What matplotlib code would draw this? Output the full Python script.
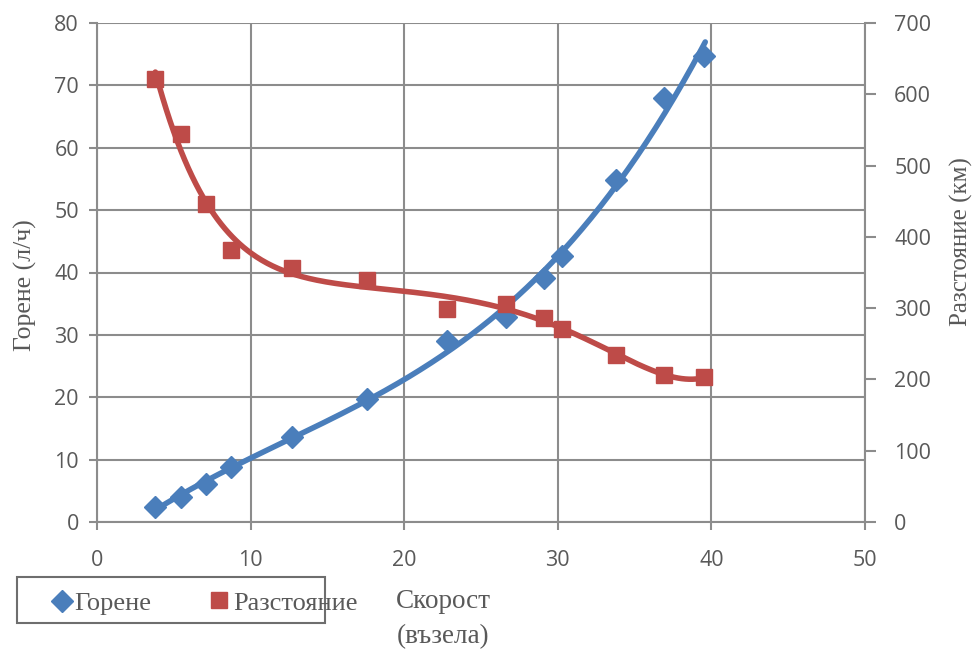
import numpy as np
import matplotlib
matplotlib.use("Agg")
import matplotlib.pyplot as plt
from matplotlib.lines import Line2D

speed = [3.8, 5.5, 7.1, 8.7, 12.7, 17.6, 22.8, 26.6, 29.1, 30.3, 33.8, 36.9, 39.5]
fuel = [2.4, 4.0, 6.1, 8.8, 13.6, 19.7, 29.0, 32.9, 39.1, 42.6, 54.8, 68.0, 74.7]
distance = [621, 544, 446, 381, 356, 339, 299, 306, 286, 271, 234, 206, 203]

x_ticks = [0, 10, 20, 30, 40, 50]
left_ticks = [0, 10, 20, 30, 40, 50, 60, 70, 80]
right_ticks = [0, 100, 200, 300, 400, 500, 600, 700]

BLUE = "#4a7ebb"
RED = "#be4b48"
GRID = "#8c8c8c"
TXT = "#595959"

fig = plt.figure(figsize=(9.75, 6.51), dpi=100)
ax = fig.add_axes([97/975, (651-522)/651, 768/975, 499/651])
ax2 = ax.twinx()

serif = ["Liberation Serif", "DejaVu Serif"]

ax.set_xlim(0, 50)
ax.set_ylim(0, 80)
ax2.set_ylim(0, 700)
ax.set_xticks(x_ticks)
ax.set_yticks(left_ticks)
ax2.set_yticks(right_ticks)
ax.grid(True, color=GRID, linewidth=1.5)
ax.set_axisbelow(True)

for a in (ax, ax2):
    for s in a.spines.values():
        s.set_visible(False)
ax.spines["left"].set_visible(True)
ax.spines["bottom"].set_visible(True)
ax2.spines["right"].set_visible(True)
for s in (ax.spines["left"], ax.spines["bottom"], ax2.spines["right"]):
    s.set_color(GRID)
    s.set_linewidth(1.5)

ax.tick_params(axis="y", direction="out", length=6, width=1.5, color=GRID, pad=7)
ax.tick_params(axis="x", direction="out", length=6, width=1.5, color=GRID, pad=14)
ax2.tick_params(axis="y", direction="out", length=8, width=1.5, color=GRID, pad=13)
for lbl in ax.get_xticklabels() + ax.get_yticklabels() + ax2.get_yticklabels():
    lbl.set_fontfamily("Open Sans")
    lbl.set_fontsize(15.5)
    lbl.set_color(TXT)

# trendlines (polynomial fits of the data)
xs_f = np.linspace(min(speed), max(speed) + 0.1, 300)
xs_d = np.linspace(min(speed), max(speed), 300)
pf = np.polyfit(speed, fuel, 3)
pd_ = np.polyfit(speed, distance, 6)

ax.plot(xs_f, np.polyval(pf, xs_f), color=BLUE, linewidth=4, zorder=3, solid_capstyle="round")
ax2.plot(xs_d, np.polyval(pd_, xs_d), color=RED, linewidth=4, zorder=3, solid_capstyle="round")
ax.plot(speed, fuel, linestyle="none", marker="D", markersize=11, color=BLUE, zorder=4)
ax2.plot(speed, distance, linestyle="none", marker="s", markersize=12, color=RED, zorder=4)

fig.text(25/975, 1 - 285/651, "Горене (л/ч)", rotation=90, ha="center", va="center",
         family=serif, fontsize=18.5, color=TXT)
fig.text(961/975, 1 - 242/651, "Разстояние (км)", rotation=90, ha="center", va="center",
         family=serif, fontsize=18, color=TXT)
fig.text(443/975, 1 - 601/651, "Скорост", ha="center", va="center",
         family=serif, fontsize=19.5, color=TXT)
fig.text(443/975, 1 - 637/651, "(възела)", ha="center", va="center",
         family=serif, fontsize=19.5, color=TXT)

# legend box
box = plt.Rectangle((17/975, 1 - 623/651), 308/975, 46/651, transform=fig.transFigure,
                    fill=False, edgecolor="#6e6e6e", linewidth=1.5)
fig.add_artist(box)
fig.add_artist(Line2D([62/975], [1 - 601/651], marker="D", markersize=11, color=BLUE,
                      transform=fig.transFigure))
fig.text(74/975, 1 - 604/651, "Горене", ha="left", va="center", family=serif,
         fontsize=19, color=TXT)
fig.add_artist(Line2D([219/975], [1 - 600/651], marker="s", markersize=12, color=RED,
                      transform=fig.transFigure))
fig.text(233/975, 1 - 604/651, "Разстояние", ha="left", va="center", family=serif,
         fontsize=19, color=TXT)

fig.savefig("out.png", dpi=100)
